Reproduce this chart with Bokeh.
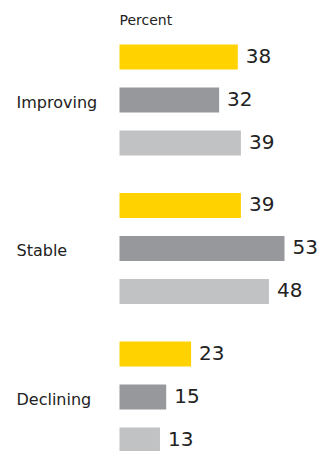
from bokeh.plotting import figure
from bokeh.models import Range1d, Label, ColumnDataSource
from bokeh.core.properties import value
from bokeh.embed import file_html
from bokeh.resources import INLINE

categories = ["Improving", "Stable", "Declining"]
series_a = [38, 39, 23]   # yellow
series_b = [32, 53, 15]   # dark gray
series_c = [39, 48, 13]   # light gray
unit_label = "Percent"

colors = ["#FFD200", "#97989C", "#C1C2C4"]
FONT = "DejaVu Sans"

W, H = 332, 451
px_per_unit = 165 / 53.0
left_px = 119
slot = 43.0
gap = 148.5 / slot - 3
top_center_px = 56.5

p = figure(width=W, height=H, output_backend="svg", toolbar_location=None,
           min_border=0, outline_line_color=None,
           x_range=Range1d(-left_px / px_per_unit, (W - left_px) / px_per_unit),
           y_range=Range1d((H - top_center_px) / slot, -top_center_px / slot))
p.axis.visible = False
p.grid.visible = False
p.background_fill_color = "white"
p.border_fill_color = "white"

series = [series_a, series_b, series_c]
ys, vals, cols = [], [], []
for g in range(len(categories)):
    for i, s in enumerate(series):
        ys.append(g * (3 + gap) + i)
        vals.append(s[g])
        cols.append(colors[i])
src = ColumnDataSource(dict(y=ys, v=vals, c=cols, t=[str(v) for v in vals]))
p.hbar(y="y", left=0, right="v", height=25 / slot, color="c", source=src, line_color=None)
p.text(x="v", y="y", text="t", source=src, x_offset=8, y_offset=-1.5, text_baseline="middle",
       text_font=value(FONT), text_font_size="20px", text_color="#222222")

for g, cat in enumerate(categories):
    p.add_layout(Label(x=16, x_units="screen", y=g * (3 + gap) + 1, text=cat,
                       text_baseline="middle", text_font=FONT, text_font_size="16px",
                       text_color="#222222", y_offset=-2))

p.add_layout(Label(x=0, y=(19.5 - top_center_px) / slot, text=unit_label,
                   text_baseline="middle", text_font=FONT, text_font_size="14px",
                   text_color="#222222"))

open("out.html", "w").write(file_html(p, INLINE))
